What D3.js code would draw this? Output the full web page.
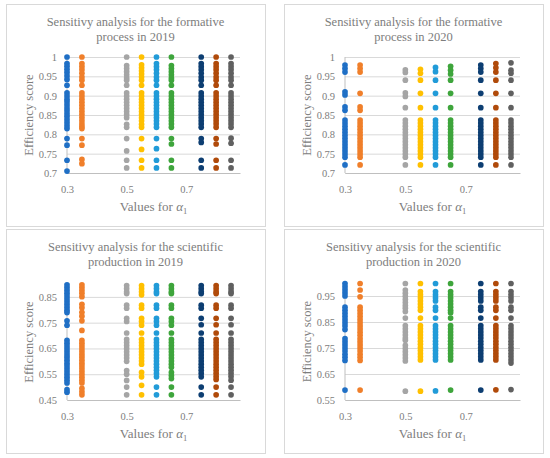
<!DOCTYPE html>
<html>
<head>
<meta charset="utf-8">
<script src="https://cdn.jsdelivr.net/npm/d3@7"></script>
<style>
  html, body { margin: 0; padding: 0; background: #fff; }
  svg { display: block; }
  text { font-family: "Liberation Serif", "DejaVu Serif", serif; fill: #7d7d7d; }
</style>
</head>
<body>
<svg id="chart" width="550" height="458"></svg>
<script>
// ---- data ----
const alphaPositions = [0.3, 0.35, 0.5, 0.55, 0.6, 0.65, 0.75, 0.8, 0.85];
const seriesColors = ["#1f6fc5", "#f07f2a", "#a5a5a5", "#ffc000", "#219bd8", "#3ea53c", "#0d3e72", "#b04a0a", "#606060"];
const xTickValues = [0.3, 0.5, 0.7];

const panelTitles = [
  ["Sensitivy analysis for the formative", "process in 2019"],
  ["Sensitivy analysis for the formative", "process in 2020"],
  ["Sensitivy analysis for the scientific", "production in 2019"],
  ["Sensitivy analysis for the scientific", "production in 2020"]
];
const yTicksFormative = [0.7, 0.75, 0.8, 0.85, 0.9, 0.95, 1];
const yTicksScientific2019 = [0.45, 0.55, 0.65, 0.75, 0.85];
const yTicksScientific2020 = [0.55, 0.65, 0.75, 0.85, 0.95];

const formative2019 = [
  [1.0, 0.983, 0.976, 0.968, 0.96, 0.951, 0.942, 0.927, 0.907, 0.899, 0.891, 0.884, 0.876, 0.868, 0.861, 0.853, 0.846, 0.838, 0.83, 0.822, 0.815, 0.789, 0.772, 0.733, 0.705],
  [1.0, 0.983, 0.975, 0.967, 0.958, 0.948, 0.94, 0.927, 0.907, 0.899, 0.891, 0.883, 0.875, 0.867, 0.859, 0.851, 0.843, 0.835, 0.827, 0.82, 0.815, 0.789, 0.772, 0.735, 0.724],
  [1.0, 0.978, 0.97, 0.962, 0.954, 0.946, 0.94, 0.927, 0.907, 0.899, 0.891, 0.883, 0.875, 0.867, 0.859, 0.851, 0.843, 0.826, 0.818, 0.789, 0.757, 0.733, 0.713],
  [1.0, 0.98, 0.972, 0.964, 0.956, 0.948, 0.94, 0.927, 0.907, 0.899, 0.891, 0.883, 0.875, 0.867, 0.859, 0.851, 0.843, 0.835, 0.826, 0.818, 0.789, 0.761, 0.733, 0.713],
  [1.0, 0.983, 0.975, 0.967, 0.958, 0.948, 0.94, 0.927, 0.907, 0.899, 0.891, 0.883, 0.875, 0.867, 0.859, 0.851, 0.843, 0.835, 0.827, 0.818, 0.789, 0.763, 0.733, 0.713],
  [1.0, 0.978, 0.97, 0.962, 0.954, 0.946, 0.94, 0.927, 0.907, 0.899, 0.891, 0.883, 0.875, 0.867, 0.859, 0.851, 0.843, 0.835, 0.827, 0.818, 0.789, 0.775, 0.733, 0.713],
  [1.0, 0.983, 0.975, 0.967, 0.958, 0.948, 0.94, 0.927, 0.907, 0.899, 0.891, 0.883, 0.875, 0.867, 0.859, 0.851, 0.843, 0.835, 0.827, 0.818, 0.789, 0.779, 0.733, 0.713],
  [1.0, 0.983, 0.975, 0.967, 0.958, 0.948, 0.94, 0.927, 0.907, 0.899, 0.891, 0.883, 0.875, 0.867, 0.859, 0.851, 0.843, 0.835, 0.827, 0.818, 0.789, 0.775, 0.733, 0.713],
  [1.0, 0.983, 0.975, 0.967, 0.958, 0.948, 0.94, 0.927, 0.907, 0.899, 0.891, 0.883, 0.875, 0.867, 0.859, 0.851, 0.843, 0.835, 0.827, 0.818, 0.79, 0.777, 0.733, 0.713]
];

const formative2020 = [
  [0.979, 0.97, 0.961, 0.91, 0.902, 0.871, 0.862, 0.837, 0.829, 0.821, 0.813, 0.805, 0.797, 0.789, 0.781, 0.773, 0.765, 0.757, 0.749, 0.741, 0.721],
  [0.979, 0.97, 0.961, 0.906, 0.871, 0.862, 0.837, 0.829, 0.821, 0.813, 0.805, 0.797, 0.789, 0.781, 0.773, 0.765, 0.757, 0.749, 0.741, 0.721],
  [0.967, 0.96, 0.94, 0.907, 0.898, 0.869, 0.837, 0.829, 0.821, 0.813, 0.805, 0.797, 0.789, 0.781, 0.773, 0.765, 0.757, 0.749, 0.741, 0.721],
  [0.968, 0.958, 0.94, 0.906, 0.869, 0.837, 0.829, 0.821, 0.813, 0.805, 0.797, 0.789, 0.781, 0.773, 0.765, 0.757, 0.749, 0.741, 0.721],
  [0.973, 0.962, 0.94, 0.906, 0.869, 0.837, 0.829, 0.821, 0.813, 0.805, 0.797, 0.789, 0.781, 0.773, 0.765, 0.757, 0.749, 0.741, 0.721],
  [0.976, 0.966, 0.956, 0.94, 0.906, 0.869, 0.837, 0.829, 0.821, 0.813, 0.805, 0.797, 0.789, 0.781, 0.773, 0.765, 0.757, 0.749, 0.741, 0.721],
  [0.979, 0.97, 0.961, 0.94, 0.906, 0.869, 0.837, 0.829, 0.821, 0.813, 0.805, 0.797, 0.789, 0.781, 0.773, 0.765, 0.757, 0.749, 0.741, 0.721],
  [0.983, 0.972, 0.961, 0.94, 0.906, 0.869, 0.837, 0.829, 0.821, 0.813, 0.805, 0.797, 0.789, 0.781, 0.773, 0.765, 0.757, 0.749, 0.741, 0.721],
  [0.985, 0.966, 0.958, 0.94, 0.906, 0.869, 0.837, 0.829, 0.821, 0.813, 0.805, 0.797, 0.789, 0.781, 0.773, 0.765, 0.757, 0.749, 0.741, 0.721]
];

const scientific2019 = [
  [0.897, 0.886, 0.875, 0.864, 0.853, 0.842, 0.831, 0.82, 0.809, 0.798, 0.789, 0.757, 0.74, 0.681, 0.67, 0.659, 0.648, 0.637, 0.626, 0.615, 0.604, 0.593, 0.582, 0.571, 0.56, 0.549, 0.538, 0.527, 0.516, 0.49, 0.48],
  [0.897, 0.886, 0.875, 0.864, 0.851, 0.821, 0.808, 0.79, 0.775, 0.757, 0.72, 0.681, 0.67, 0.659, 0.648, 0.637, 0.626, 0.615, 0.604, 0.593, 0.582, 0.571, 0.56, 0.549, 0.538, 0.527, 0.516, 0.495, 0.482, 0.47],
  [0.894, 0.882, 0.87, 0.863, 0.818, 0.806, 0.767, 0.755, 0.71, 0.685, 0.673, 0.661, 0.649, 0.637, 0.625, 0.613, 0.6, 0.564, 0.55, 0.526, 0.5, 0.47],
  [0.894, 0.882, 0.87, 0.858, 0.818, 0.806, 0.767, 0.755, 0.74, 0.71, 0.685, 0.673, 0.661, 0.649, 0.637, 0.625, 0.613, 0.601, 0.589, 0.557, 0.54, 0.507, 0.47],
  [0.894, 0.882, 0.87, 0.863, 0.818, 0.806, 0.767, 0.755, 0.74, 0.71, 0.685, 0.673, 0.661, 0.649, 0.637, 0.625, 0.613, 0.601, 0.589, 0.577, 0.565, 0.553, 0.54, 0.5, 0.47],
  [0.894, 0.882, 0.87, 0.863, 0.818, 0.806, 0.767, 0.755, 0.74, 0.71, 0.685, 0.673, 0.661, 0.649, 0.637, 0.625, 0.613, 0.601, 0.589, 0.577, 0.557, 0.545, 0.533, 0.5, 0.47],
  [0.894, 0.882, 0.87, 0.863, 0.818, 0.806, 0.767, 0.742, 0.71, 0.685, 0.673, 0.661, 0.649, 0.637, 0.625, 0.613, 0.601, 0.589, 0.577, 0.565, 0.553, 0.54, 0.5, 0.47],
  [0.894, 0.882, 0.87, 0.863, 0.818, 0.806, 0.767, 0.742, 0.71, 0.685, 0.673, 0.661, 0.649, 0.637, 0.625, 0.613, 0.601, 0.589, 0.577, 0.565, 0.553, 0.541, 0.53, 0.5, 0.47],
  [0.894, 0.882, 0.87, 0.863, 0.818, 0.806, 0.767, 0.742, 0.71, 0.685, 0.673, 0.661, 0.649, 0.637, 0.625, 0.613, 0.601, 0.589, 0.577, 0.565, 0.553, 0.541, 0.527, 0.5, 0.47]
];

const scientific2020 = [
  [0.998, 0.986, 0.974, 0.962, 0.95, 0.907, 0.895, 0.883, 0.871, 0.859, 0.847, 0.835, 0.821, 0.786, 0.774, 0.762, 0.75, 0.738, 0.726, 0.714, 0.702, 0.588],
  [0.998, 0.973, 0.947, 0.907, 0.895, 0.883, 0.871, 0.859, 0.847, 0.835, 0.823, 0.811, 0.799, 0.786, 0.774, 0.762, 0.75, 0.738, 0.726, 0.714, 0.702, 0.588],
  [0.998, 0.973, 0.961, 0.949, 0.937, 0.925, 0.913, 0.903, 0.89, 0.865, 0.836, 0.824, 0.812, 0.8, 0.788, 0.78, 0.76, 0.748, 0.736, 0.724, 0.712, 0.7, 0.584],
  [0.998, 0.967, 0.955, 0.943, 0.931, 0.919, 0.907, 0.895, 0.865, 0.836, 0.824, 0.812, 0.8, 0.788, 0.776, 0.764, 0.752, 0.74, 0.728, 0.716, 0.704, 0.584],
  [0.998, 0.967, 0.955, 0.943, 0.931, 0.907, 0.895, 0.865, 0.836, 0.824, 0.812, 0.8, 0.788, 0.776, 0.764, 0.752, 0.74, 0.728, 0.716, 0.704, 0.585],
  [0.998, 0.967, 0.955, 0.943, 0.931, 0.919, 0.907, 0.895, 0.886, 0.865, 0.836, 0.824, 0.812, 0.8, 0.788, 0.776, 0.764, 0.752, 0.74, 0.728, 0.716, 0.704, 0.588],
  [0.998, 0.967, 0.955, 0.943, 0.931, 0.907, 0.895, 0.865, 0.836, 0.824, 0.812, 0.8, 0.788, 0.776, 0.764, 0.752, 0.74, 0.728, 0.716, 0.704, 0.588],
  [0.998, 0.967, 0.955, 0.943, 0.931, 0.907, 0.895, 0.865, 0.836, 0.824, 0.812, 0.8, 0.788, 0.776, 0.764, 0.752, 0.74, 0.728, 0.716, 0.704, 0.589],
  [0.998, 0.967, 0.955, 0.943, 0.931, 0.907, 0.895, 0.865, 0.836, 0.824, 0.812, 0.8, 0.788, 0.776, 0.764, 0.752, 0.74, 0.728, 0.716, 0.704, 0.692, 0.59]
];

// ---- layout ----
const panels = [
  { data: formative2019, title: panelTitles[0], yDomain: [0.7, 1.0], yTicks: yTicksFormative,
    box: [6, 4, 259, 222], plot: { l: 67, r: 240, t: 57, b: 173 } },
  { data: formative2020, title: panelTitles[1], yDomain: [0.7, 1.0], yTicks: yTicksFormative,
    box: [284, 4, 259, 222], plot: { l: 345, r: 520, t: 57, b: 173 } },
  { data: scientific2019, title: panelTitles[2], yDomain: [0.45, 0.9], yTicks: yTicksScientific2019,
    box: [6, 229, 259, 224], plot: { l: 67, r: 240, t: 284, b: 400 } },
  { data: scientific2020, title: panelTitles[3], yDomain: [0.55, 1.0], yTicks: yTicksScientific2020,
    box: [284, 229, 259, 224], plot: { l: 345, r: 520, t: 283, b: 400 } }
];

const svg = d3.select("#chart");

panels.forEach((p) => {
  const g = svg.append("g");
  const [bx, by, bw, bh] = p.box;
  g.append("rect").attr("x", bx + 0.5).attr("y", by + 0.5).attr("width", bw).attr("height", bh)
    .attr("fill", "#fff").attr("stroke", "#d9d9d9").attr("stroke-width", 1);

  const x = d3.scaleLinear().domain([0.3, 0.88]).range([p.plot.l, p.plot.r]);
  const y = d3.scaleLinear().domain(p.yDomain).range([p.plot.b, p.plot.t]);

  // gridlines + y labels
  const yAxis = d3.axisLeft(y).tickValues(p.yTicks).tickSize(-(p.plot.r - p.plot.l)).tickPadding(10)
    .tickFormat(d => String(+d.toFixed(2)));
  const ya = g.append("g").attr("transform", `translate(${p.plot.l},0)`).call(yAxis);
  ya.select(".domain").remove();
  ya.selectAll(".tick line").attr("stroke", "#d9d9d9").attr("stroke-width", 1);
  ya.selectAll(".tick text").attr("font-size", 10.5).attr("fill", "#7d7d7d")
    .style("font-family", '"Liberation Serif", serif');

  // x axis
  const xAxis = d3.axisBottom(x).tickValues(xTickValues).tickSize(0).tickPadding(13)
    .tickFormat(d => String(d));
  const xa = g.append("g").attr("transform", `translate(0,${p.plot.b})`).call(xAxis);
  xa.select(".domain").attr("stroke", "#bfbfbf").attr("stroke-width", 1);
  xa.selectAll(".tick text").attr("font-size", 10.5).attr("fill", "#7d7d7d")
    .style("font-family", '"Liberation Serif", serif');

  // vertical axis line at 0.3
  g.append("line").attr("x1", x(0.3)).attr("x2", x(0.3)).attr("y1", p.plot.t).attr("y2", p.plot.b)
    .attr("stroke", "#bfbfbf").attr("stroke-width", 1);

  // points
  p.data.forEach((col, i) => {
    g.append("g").selectAll("circle").data(col).join("circle")
      .attr("cx", x(alphaPositions[i])).attr("cy", d => y(d)).attr("r", 2.85)
      .attr("fill", seriesColors[i]);
  });

  // title
  const cx = bx + bw / 2;
  g.append("text").attr("x", cx).attr("y", by + 22).attr("text-anchor", "middle")
    .attr("font-size", 12.5).text(p.title[0]);
  g.append("text").attr("x", cx).attr("y", by + 37).attr("text-anchor", "middle")
    .attr("font-size", 12.5).text(p.title[1]);

  // y axis title
  const ymid = (p.plot.t + p.plot.b) / 2;
  g.append("text").attr("transform", `translate(${bx + 27},${ymid}) rotate(-90)`)
    .attr("text-anchor", "middle").attr("font-size", 12.5).text("Efficiency score");

  // x axis title
  const xt = g.append("text").attr("x", (p.plot.l + p.plot.r) / 2).attr("y", p.plot.b + 38)
    .attr("text-anchor", "middle").attr("font-size", 13);
  xt.append("tspan").text("Values for ");
  xt.append("tspan").attr("font-style", "italic").text("α");
  xt.append("tspan").attr("font-size", 8.5).attr("dy", 3).text("1");
});
</script>
</body>
</html>
